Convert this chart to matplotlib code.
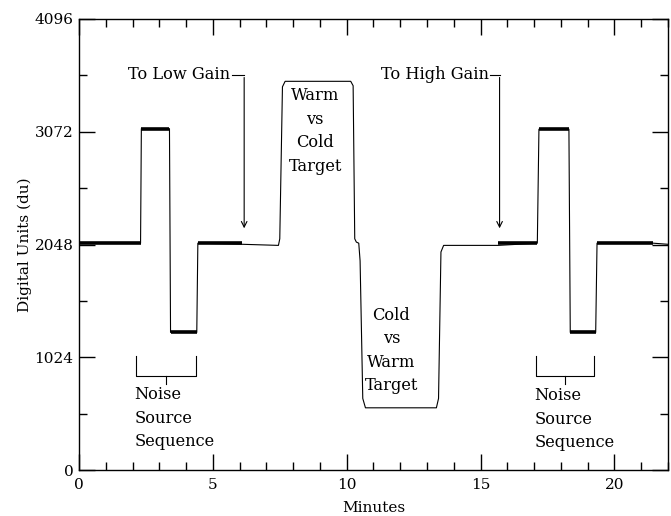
import matplotlib
matplotlib.use("Agg")
import matplotlib.pyplot as plt
from matplotlib.ticker import MultipleLocator

plt.rcParams['font.family'] = ['DejaVu Serif']

# clean trace (minutes, du)
trace_t = [0, 2.30, 2.33, 3.38, 3.42, 4.40, 4.44, 6.10, 7.45, 7.50, 7.60, 7.70,
           10.15, 10.24, 10.30, 10.36, 10.45, 10.50, 10.60, 10.70, 13.35, 13.43,
           13.52, 13.62, 15.65, 17.12, 17.18, 18.30, 18.35, 19.30, 19.35, 21.45, 22.0]
trace_v = [2060, 2060, 3100, 3100, 1250, 1250, 2060, 2050, 2040, 2100, 3480, 3530,
           3530, 3490, 2100, 2070, 2060, 1900, 650, 565, 565, 650,
           1980, 2040, 2040, 2060, 3095, 3095, 1250, 1250, 2060, 2060, 2050]

# segments where the noise source / high gain makes the trace noisy
noisy_start = [0, 2.33, 3.42, 4.44, 15.65, 17.18, 18.35, 19.35]
noisy_end = [2.30, 3.38, 4.40, 6.10, 17.12, 18.30, 19.30, 21.45]
noisy_level = [2060, 3100, 1250, 2060, 2060, 3095, 1250, 2060]

fig = plt.figure(figsize=(6.71, 5.16), dpi=100)
ax = fig.add_axes([0.1177, 0.0891, 0.8778, 0.8741])

ax.plot(trace_t, trace_v, color='black', lw=0.8)
for s, e, lv in zip(noisy_start, noisy_end, noisy_level):
    ax.plot([s, e], [lv, lv], color='black', lw=2.6, solid_capstyle='butt')

ax.set_xlim(0, 22)
ax.set_ylim(0, 4096)
ax.xaxis.set_major_locator(MultipleLocator(5))
ax.xaxis.set_minor_locator(MultipleLocator(1))
ax.yaxis.set_major_locator(MultipleLocator(1024))
ax.yaxis.set_minor_locator(MultipleLocator(512))
ax.tick_params(which='both', direction='in', top=True, right=True, labelsize=11)
ax.tick_params(which='major', length=11.5, width=1)
ax.tick_params(which='minor', length=6, width=1)
ax.tick_params(axis='y', pad=4)
ax.tick_params(axis='x', pad=6)
for sp in ax.spines.values():
    sp.set_linewidth(1)

ax.set_xlabel('Minutes', fontsize=11, labelpad=6)
ax.set_ylabel('Digital Units (du)', fontsize=11, labelpad=2)

fs = 11.7
ls = 1.5

# gain change markers
ax.text(5.65, 3590, 'To Low Gain', ha='right', va='center', fontsize=fs)
ax.plot([5.72, 6.17], [3590, 3590], color='black', lw=0.8)
ax.annotate('', xy=(6.17, 2170), xytext=(6.17, 3590),
            arrowprops=dict(arrowstyle='->', color='black', lw=0.8))
ax.text(15.3, 3590, 'To High Gain', ha='right', va='center', fontsize=fs)
ax.plot([15.37, 15.71], [3590, 3590], color='black', lw=0.8)
ax.annotate('', xy=(15.71, 2170), xytext=(15.71, 3590),
            arrowprops=dict(arrowstyle='->', color='black', lw=0.8))

ax.text(8.82, 3080, 'Warm\nvs\nCold\nTarget', ha='center', va='center',
        fontsize=fs, linespacing=ls)
ax.text(11.67, 1085, 'Cold\nvs\nWarm\nTarget', ha='center', va='center',
        fontsize=fs, linespacing=ls)

# noise source brackets
for x0, x1 in [(2.13, 4.38), (17.06, 19.23)]:
    ax.plot([x0, x0, x1, x1], [1035, 854, 854, 1035], color='black', lw=0.8)
    xm = (x0 + x1) / 2
    ax.plot([xm, xm], [854, 785], color='black', lw=0.8)
ax.text(2.06, 468, 'Noise\nSource\nSequence', ha='left', va='center',
        fontsize=fs, linespacing=ls)
ax.text(17.02, 460, 'Noise\nSource\nSequence', ha='left', va='center',
        fontsize=fs, linespacing=ls)

fig.savefig('out.png', dpi=100)
